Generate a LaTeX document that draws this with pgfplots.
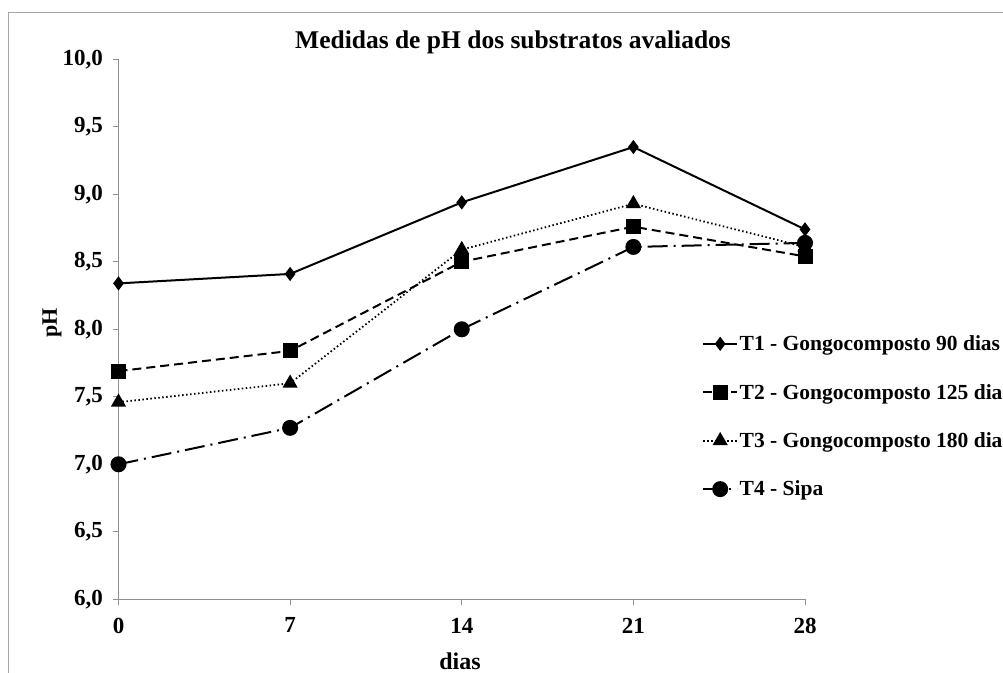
\documentclass[border=0pt]{standalone}
\usepackage{pgfplots}
\pgfplotsset{compat=1.18}
\usepackage{fontspec}
\setmainfont{Liberation Serif}
\definecolor{axgray}{HTML}{909090}
\begin{document}
\begin{tikzpicture}[x=1bp,y=1bp]
\begin{scope}
\clip (0,0) rectangle (1003,673);
\draw[axgray!80, line width=1bp] (8,-10) |- (1020,660);
\begin{axis}[
  at={(118.5bp,73.7bp)}, anchor=south west,
  width=686.5bp, height=540bp, scale only axis,
  xmin=0, xmax=28, ymin=6, ymax=10,
  axis x line*=bottom, axis y line*=left,
  axis line style={axgray, line width=1bp, -},
  xtick={0,7,14,21,28}, ytick={6,6.5,...,10},
  tick style={axgray, line width=1bp},
  tick align=outside, major tick length=6bp,
  /pgf/number format/assume math mode=true,
  ticklabel style={font=\fontsize{23bp}{27bp}\selectfont\bfseries},
  xticklabel style={yshift=-9bp},
  yticklabel style={xshift=-6bp, /pgf/number format/.cd, fixed, fixed zerofill, precision=1, use comma},
  title={Medidas de pH dos substratos avaliados},
  title style={at={(axis description cs:0.5747,1)}, anchor=center, yshift=11bp, font=\fontsize{25.5bp}{30bp}\selectfont\bfseries},
  xlabel={dias}, ylabel={pH},
  xlabel style={at={(axis description cs:0.4975,-0.1156)}, anchor=center, font=\fontsize{24bp}{28bp}\selectfont\bfseries},
  ylabel style={at={(axis description cs:-0.0969,0.512)}, anchor=center, rotate=0, font=\fontsize{22bp}{26bp}\selectfont\bfseries},
  legend style={at={(axis description cs:0.8456,0.495)}, anchor=north west, draw=none, fill=none,
    font=\fontsize{21.5bp}{25bp}\selectfont\bfseries, row sep=29bp,
    nodes={inner sep=1.5bp}},
  legend cell align=left,
  legend image code/.code={\draw[mark repeat=2,mark phase=2,#1] plot coordinates {(0bp,0bp)(17bp,0bp)(34bp,0bp)};},
]
\addplot[black, line width=2bp, mark=diamond*, mark size=5.5bp, mark options={solid}]
  coordinates {(0,8.34) (7,8.41) (14,8.94) (21,9.35) (28,8.74)};
\addlegendentry{T1 - Gongocomposto 90 dias}
\addplot[black, line width=2bp, dash pattern=on 9bp off 5bp, mark=square*, mark size=6.5bp, mark options={solid}]
  coordinates {(0,7.69) (7,7.84) (14,8.50) (21,8.76) (28,8.54)};
\addlegendentry{T2 - Gongocomposto 125 dias}
\addplot[black, line width=1.8bp, dash pattern=on 1.5bp off 2.5bp, mark=triangle*, mark size=7bp, mark options={solid}]
  coordinates {(0,7.46) (7,7.60) (14,8.59) (21,8.93) (28,8.61)};
\addlegendentry{T3 - Gongocomposto 180 dias}
\addplot[black, line width=2bp, dash pattern=on 20bp off 6bp on 2bp off 6bp, mark=*, mark size=7bp, mark options={solid}]
  coordinates {(0,7.00) (7,7.27) (14,8.00) (21,8.61) (28,8.64)};
\addlegendentry{T4 - Sipa}
\end{axis}
\end{scope}
\pgfresetboundingbox
\useasboundingbox (0,0) rectangle (1003,673);
\end{tikzpicture}
\end{document}
